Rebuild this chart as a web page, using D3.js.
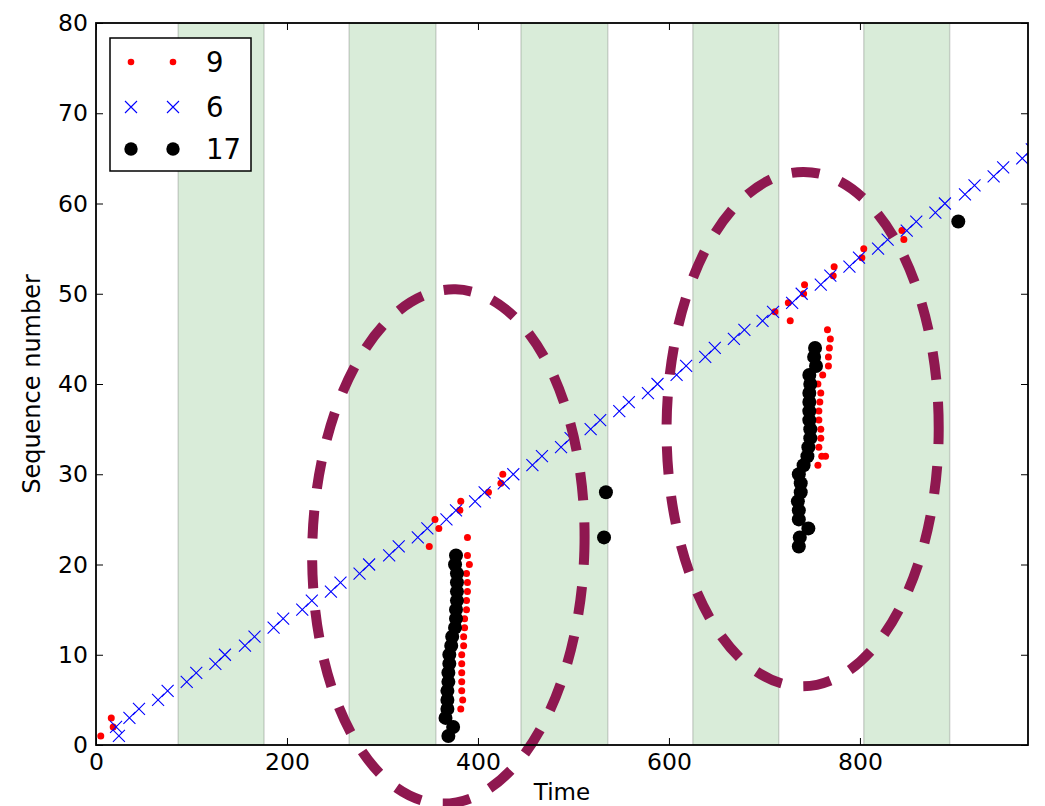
<!DOCTYPE html>
<html>
<head>
<meta charset="utf-8">
<script src="https://cdn.jsdelivr.net/npm/d3@7"></script>
<style>
  body { margin: 0; background: #fff; }
  text { font-family: "DejaVu Sans", sans-serif; }
</style>
</head>
<body>
<div id="container"></div>
<script>
// shaded time windows
var bandStart = [86, 265, 445, 625, 804];
var bandEnd   = [176, 356, 536, 715, 894];

// series "9" (red dots)
var s9Time = [5, 18, 16,
  382, 384, 383, 383, 383, 383, 383, 385, 385, 386, 386, 388, 388, 389, 389, 388, 391, 389,
  349, 389, 359, 355, 381, 382, 411, 424, 426,
  756, 760, 764, 757, 759, 759, 757, 757, 758, 759, 756, 761, 767, 767, 768, 769, 766,
  727, 711, 725, 741, 742, 772, 773, 802, 804, 846, 844];
var s9Seq = [1, 2, 3,
  4, 5, 6, 7, 8, 9, 10, 11, 12, 13, 14, 15, 16, 17, 18, 19, 20, 21,
  22, 23, 24, 25, 26, 27, 28, 29, 30,
  31, 32, 32, 33, 34, 35, 36, 37, 38, 39, 40, 41, 42, 43, 44, 45, 46,
  47, 48, 49, 50, 51, 52, 53, 54, 55, 56, 57];

// series "6" (blue crosses)
var s6Time = [24, 21, 35, 45, 65, 75, 95, 105, 125, 135, 156, 166, 186, 196, 216, 226,
  246, 256, 276, 286, 307, 317, 337, 347, 367, 377, 397, 407, 427, 437, 457, 467,
  487, 497, 518, 528, 548, 558, 578, 588, 608, 618, 638, 648, 668, 679, 698, 709,
  729, 739, 759, 769, 789, 799, 819, 829, 849, 859, 879, 889, 910, 920, 940, 950, 970, 980];
var s6Seq = [1, 2, 3, 4, 5, 6, 7, 8, 9, 10, 11, 12, 13, 14, 15, 16,
  17, 18, 19, 20, 21, 22, 23, 24, 25, 26, 27, 28, 29, 30, 31, 32,
  33, 34, 35, 36, 37, 38, 39, 40, 41, 42, 43, 44, 45, 46, 47, 48,
  49, 50, 51, 52, 53, 54, 55, 56, 57, 58, 59, 60, 61, 62, 63, 64, 65, 66];

// series "17" (black dots)
var s17Time = [369, 374, 366, 368, 368, 368, 369, 369, 370, 370, 372, 373, 376, 377, 377, 378, 378, 378, 378, 376, 377,
  532, 534,
  736, 737, 746, 736, 736, 735, 738, 738, 736, 741, 745, 746, 748, 748, 747, 747, 747, 747, 748, 747, 754, 752, 753,
  903];
var s17Seq = [1, 2, 3, 4, 5, 6, 7, 8, 9, 10, 11, 12, 13, 14, 15, 16, 17, 18, 19, 20, 21,
  23, 28,
  22, 23, 24, 25, 26, 27, 28, 29, 30, 31, 32, 33, 34, 35, 36, 37, 38, 39, 40, 41, 42, 43, 44,
  58];

// dashed ellipses around the bursts
var ellipseCx = [369, 740];
var ellipseCy = [22, 35];
var ellipseW = [285, 285];
var ellipseH = [57, 57];
var ellipseTilt = [1.6, 0.2];

var xTicks = [0, 200, 400, 600, 800];
var yTicks = [0, 10, 20, 30, 40, 50, 60, 70, 80];

var legendNames = ["9", "6", "17"];

var margin = {top: 23, right: 17, bottom: 61, left: 96},
    width = 1045 - margin.left - margin.right,
    height = 806 - margin.top - margin.bottom;

var root = d3.select("#container")
  .append("svg")
    .attr("width", width + margin.left + margin.right)
    .attr("height", height + margin.top + margin.bottom);

var svg = root.append("g")
    .attr("transform", "translate(" + margin.left + "," + margin.top + ")");

var x = d3.scaleLinear().domain([0, 976]).range([0, width]);
var y = d3.scaleLinear().domain([0, 80]).range([height, 0]);

svg.append("clipPath").attr("id", "plotclip")
  .append("rect").attr("width", width).attr("height", height);

// bands
var bands = bandStart.map(function(s, i) { return {s: s, e: bandEnd[i]}; });
svg.append("g").attr("clip-path", "url(#plotclip)")
  .selectAll("rect")
  .data(bands)
  .enter()
  .append("rect")
    .attr("x", d => x(d.s))
    .attr("width", d => x(d.e) - x(d.s))
    .attr("y", 0)
    .attr("height", height)
    .style("fill", "green")
    .style("fill-opacity", 0.15)
    .style("stroke", "rgba(0,0,0,0.15)")
    .style("stroke-width", 1.5);

var plot = svg.append("g").attr("clip-path", "url(#plotclip)");

var red = s9Time.map(function(t, i) { return {t: t, s: s9Seq[i]}; });
var blue = s6Time.map(function(t, i) { return {t: t, s: s6Seq[i]}; });
var black = s17Time.map(function(t, i) { return {t: t, s: s17Seq[i]}; });

plot.append("g")
  .selectAll("circle")
  .data(red)
  .enter()
  .append("circle")
    .attr("cx", d => x(d.t))
    .attr("cy", d => y(d.s))
    .attr("r", 3.5)
    .style("fill", "red");

var cross = "M-6,-6L6,6M-6,6L6,-6";
plot.append("g")
  .selectAll("path")
  .data(blue)
  .enter()
  .append("path")
    .attr("d", cross)
    .attr("transform", d => "translate(" + x(d.t) + "," + y(d.s) + ")")
    .style("fill", "none")
    .style("stroke", "blue")
    .style("stroke-width", 1.1);

plot.append("g")
  .selectAll("circle")
  .data(black)
  .enter()
  .append("circle")
    .attr("cx", d => x(d.t))
    .attr("cy", d => y(d.s))
    .attr("r", 7)
    .style("fill", "black");

// ellipses (not clipped); flipped so the dash starts at the right going up like mpl
var ells = ellipseCx.map(function(c, i) {
  return {cx: c, cy: ellipseCy[i], w: ellipseW[i], h: ellipseH[i], a: ellipseTilt[i]};
});
svg.append("g")
  .selectAll("ellipse")
  .data(ells)
  .enter()
  .append("ellipse")
    .attr("transform", d => "translate(" + x(d.cx) + "," + y(d.cy) + ") rotate(" + d.a + ") scale(1,-1)")
    .attr("rx", d => x(d.w / 2) - x(0))
    .attr("ry", d => y(0) - y(d.h / 2))
    .style("fill", "none")
    .style("stroke", "#8f1850")
    .style("stroke-width", 10)
    .style("stroke-dasharray", "28,22");

// axes, ticks pointing inward on all four sides
function styleAxis(g) {
  g.select(".domain").remove();
  g.selectAll("line").style("stroke", "black").style("stroke-width", 1);
  g.selectAll("text").style("font-size", "23.5px").style("fill", "black");
}

svg.append("g")
  .attr("transform", "translate(0," + height + ")")
  .call(d3.axisBottom(x).tickValues(xTicks).tickSizeInner(-7).tickSizeOuter(0).tickPadding(8))
  .call(styleAxis);
svg.append("g")
  .call(d3.axisTop(x).tickValues(xTicks).tickSizeInner(-7).tickSizeOuter(0).tickFormat(""))
  .call(styleAxis);
svg.append("g")
  .call(d3.axisLeft(y).tickValues(yTicks).tickSizeInner(-7).tickSizeOuter(0).tickPadding(8))
  .call(styleAxis);
svg.append("g")
  .attr("transform", "translate(" + width + ",0)")
  .call(d3.axisRight(y).tickValues(yTicks).tickSizeInner(-7).tickSizeOuter(0).tickFormat(""))
  .call(styleAxis);

svg.append("rect")
  .attr("width", width)
  .attr("height", height)
  .style("fill", "none")
  .style("stroke", "black")
  .style("stroke-width", 1.8);

svg.append("text")
    .attr("text-anchor", "middle")
    .attr("x", width / 2)
    .attr("y", height + 55)
    .style("font-size", "23px")
    .text("Time");

svg.append("text")
    .attr("text-anchor", "middle")
    .attr("transform", "rotate(-90)")
    .attr("x", -height / 2)
    .attr("y", -56)
    .style("font-size", "24px")
    .text("Sequence number");

// legend
var lg = svg.append("g").attr("transform", "translate(14,15)");
lg.append("rect")
  .attr("width", 141)
  .attr("height", 133)
  .style("fill", "white")
  .style("stroke", "black")
  .style("stroke-width", 1.5);

var rowY = [24, 69, 111];
var mx = [21, 63];
legendNames.forEach(function(name, i) {
  mx.forEach(function(px) {
    if (i === 0) {
      lg.append("circle").attr("cx", px).attr("cy", rowY[i]).attr("r", 3.3).style("fill", "red");
    } else if (i === 1) {
      lg.append("path").attr("d", cross)
        .attr("transform", "translate(" + px + "," + rowY[i] + ")")
        .style("fill", "none").style("stroke", "blue").style("stroke-width", 1.1);
    } else {
      lg.append("circle").attr("cx", px).attr("cy", rowY[i]).attr("r", 6.7).style("fill", "black");
    }
  });
  lg.append("text")
    .attr("x", 96)
    .attr("y", rowY[i] + 10)
    .style("font-size", "27.5px")
    .text(name);
});
</script>
</body>
</html>
